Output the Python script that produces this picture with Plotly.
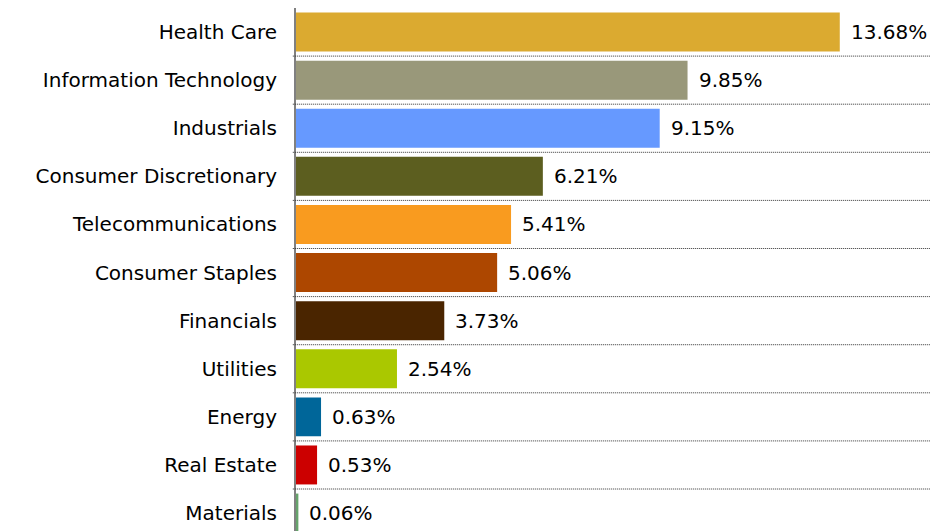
import plotly.graph_objects as go

sectors = ["Health Care", "Information Technology", "Industrials", "Consumer Discretionary",
           "Telecommunications", "Consumer Staples", "Financials", "Utilities",
           "Energy", "Real Estate", "Materials"]
weights = [13.68, 9.85, 9.15, 6.21, 5.41, 5.06, 3.73, 2.54, 0.63, 0.53, 0.06]
colors = ["#DBAA30", "#99987A", "#6699FF", "#5C5E1F", "#F99B1F", "#AD4700",
          "#4A2500", "#AAC800", "#006699", "#CC0000", "#66A36B"]

# bottom-to-top order for the category axis
cats = sectors[::-1]
vals = weights[::-1]
cols = colors[::-1]

FONT = "DejaVu Sans"
fig = go.Figure(go.Bar(
    x=vals, y=cats, orientation="h",
    marker=dict(color=cols, line=dict(width=0)),
    hoverinfo="skip",
))

for c, v in zip(cats, vals):
    fig.add_annotation(x=v, y=c, text=f"{v:.2f}%", showarrow=False,
                       xanchor="left", xshift=9,
                       font=dict(family=FONT, size=20, color="#000000"))

n = len(cats)
for k in range(n - 1):
    fig.add_shape(type="line", xref="paper", yref="y", x0=-0.005, x1=1,
                  y0=k + 0.5, y1=k + 0.5,
                  line=dict(color="#333333", width=1, dash="1px,1px"))

fig.update_layout(
    width=930, height=523,
    margin=dict(l=288, r=6, t=0, b=0),
    plot_bgcolor="white", paper_bgcolor="white",
    bargap=0.19, showlegend=False,
    xaxis=dict(range=[0, 16], showgrid=False, zeroline=False, showticklabels=False,
               showline=False),
    yaxis=dict(type="category", range=[-0.373, 10.5], showgrid=False, zeroline=False,
               showline=True, linecolor="#808080", linewidth=2,
               ticks="outside", ticklen=13, tickcolor="rgba(0,0,0,0)",
               tickfont=dict(family=FONT, size=20, color="#000000")),
)

fig.write_html("out.html")
